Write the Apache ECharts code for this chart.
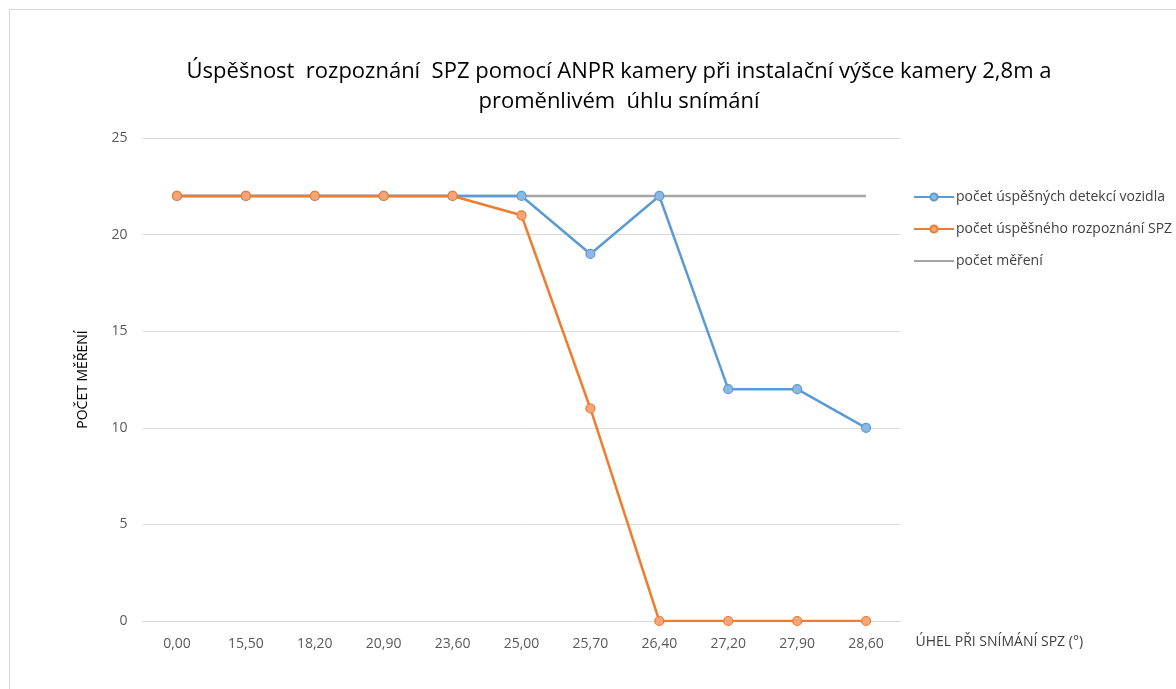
<!DOCTYPE html>
<html>
<head>
<meta charset="utf-8">
<script src="https://cdn.jsdelivr.net/npm/echarts@6/dist/echarts.min.js"></script>
<style>
  html, body { margin: 0; padding: 0; background: #fff; overflow: hidden; }
  .frame { position: absolute; left: 9px; top: 9px; width: 1300px; height: 800px;
           border-left: 1px solid #d9d9d9; border-top: 1px solid #d9d9d9; }
  #chartLine { position: absolute; left: 0; top: 0; width: 1176px; height: 689px; }
</style>
</head>
<body>
<div class="frame"></div>
<div id="chartLine"></div>
<script>
// úhly snímání (x osa)
const categories = ['0,00', '15,50', '18,20', '20,90', '23,60', '25,00', '25,70', '26,40', '27,20', '27,90', '28,60'];
// počty
const detekce = [22, 22, 22, 22, 22, 22, 19, 22, 12, 12, 10];
const rozpoznani = [22, 22, 22, 22, 22, 21, 11, 0, 0, 0, 0];
const mereni = [22, 22, 22, 22, 22, 22, 22, 22, 22, 22, 22];
const yTicks = { min: 0, max: 25, interval: 5 };

const font = '"Open Sans", sans-serif';
const chartLine = echarts.init(document.getElementById('chartLine'), null, { renderer: 'canvas' });

function lineSeries(name, data, color, fill, withMarker, z) {
  return {
    name: name,
    type: 'line',
    data: data,
    z: z,
    symbol: withMarker ? 'circle' : 'none',
    symbolSize: 9,
    showSymbol: withMarker,
    lineStyle: { color: color, width: 2.5 },
    itemStyle: { color: fill, borderColor: color, borderWidth: 1.2 },
    emphasis: { disabled: true },
    animation: false
  };
}

const option = {
  backgroundColor: 'transparent',
  title: {
    text: 'Úspěšnost  rozpoznání  SPZ pomocí ANPR kamery při instalační výšce kamery 2,8m a\nproměnlivém  úhlu snímání',
    left: 614,
    top: 52,
    textAlign: 'center',
    textStyle: { fontFamily: font, fontSize: 22, fontWeight: 'normal', color: '#000', lineHeight: 30 }
  },
  legend: {
    orient: 'vertical',
    left: 908,
    top: 185,
    itemGap: 18,
    itemWidth: 40,
    itemHeight: 9,
    textStyle: { fontFamily: font, fontSize: 14, color: '#404040', padding: [0, 0, 0, -3] },
    data: [
      'počet úspěšných detekcí vozidla',
      'počet úspěšného rozpoznání SPZ',
      { name: 'počet měření', itemStyle: { opacity: 0 } }
    ]
  },
  grid: { left: 142.5, right: 275.5, top: 138, bottom: 68, containLabel: false },
  xAxis: {
    type: 'category',
    data: categories,
    boundaryGap: true,
    axisLine: { show: true, lineStyle: { color: '#d9d9d9', width: 1 } },
    axisTick: { show: false },
    axisLabel: { fontFamily: font, fontSize: 14, color: '#595959', margin: 16 },
    name: 'ÚHEL PŘI SNÍMÁNÍ SPZ (°)',
    nameLocation: 'end',
    nameGap: 15,
    nameTextStyle: { fontFamily: font, fontSize: 14, color: '#404040', verticalAlign: 'top', padding: [14, 0, 0, 0] }
  },
  yAxis: {
    type: 'value',
    min: yTicks.min,
    max: yTicks.max,
    interval: yTicks.interval,
    axisLine: { show: false },
    axisTick: { show: false },
    splitLine: { lineStyle: { color: '#d9d9d9', width: 1 } },
    axisLabel: { fontFamily: font, fontSize: 14, color: '#595959', margin: 15 },
    name: 'POČET MĚŘENÍ',
    nameLocation: 'middle',
    nameGap: 52,
    nameTextStyle: { fontFamily: font, fontSize: 14, color: '#000' }
  },
  series: [
    lineSeries('počet úspěšných detekcí vozidla', detekce, '#5b9bd5', '#8cb8e3', true, 2),
    lineSeries('počet úspěšného rozpoznání SPZ', rozpoznani, '#ed7d31', '#f4a679', true, 3),
    lineSeries('počet měření', mereni, '#a5a5a5', '#a5a5a5', false, 1)
  ]
};
chartLine.setOption(option);
</script>
</body>
</html>
